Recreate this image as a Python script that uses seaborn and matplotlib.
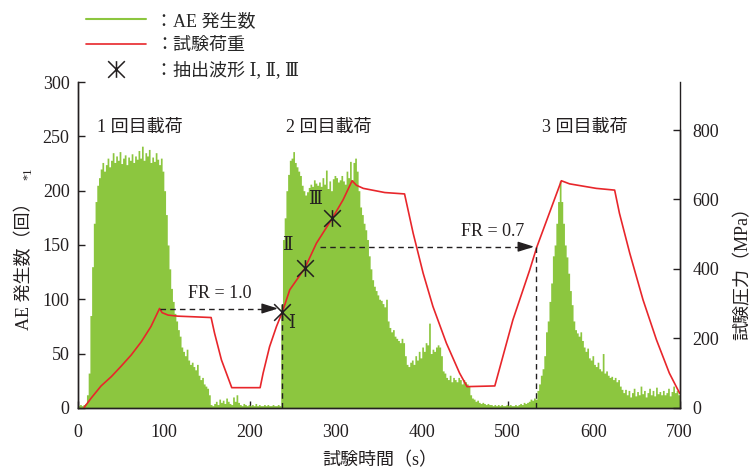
import matplotlib
matplotlib.use("Agg")
import matplotlib.pyplot as plt
from matplotlib.path import Path
from matplotlib.lines import Line2D
import pandas as pd
import seaborn as sns

# AE hits per 2 s bin (t = 0, 2, ..., 698 s)
ae_counts = [
    2, 3, 2, 3, 4, 12, 32, 85, 130, 170,
    190, 205, 212, 220, 226, 218, 224, 230, 222, 228,
    235, 226, 232, 228, 236, 225, 230, 233, 224, 231,
    228, 234, 226, 232, 229, 237, 230, 241, 228, 235,
    232, 238, 226, 231, 227, 235, 229, 224, 230, 218,
    200, 178, 150, 128, 110, 98, 87, 80, 72, 66,
    56, 52, 48, 54, 44, 40, 42, 38, 35, 40,
    30, 26, 28, 22, 20, 18, 12, 3, 2, 4,
    6, 3, 8, 5, 7, 4, 9, 6, 4, 3,
    10, 6, 12, 5, 3, 2, 4, 3, 2, 3,
    2, 3, 2, 4, 2, 3, 2, 2, 3, 2,
    3, 2, 2, 3, 2, 2, 3, 2, 95, 155,
    175, 200, 215, 228, 230, 236, 226, 222, 218, 214,
    205, 200, 196, 199, 203, 206, 204, 210, 207, 205,
    208, 204, 212, 206, 219, 202, 209, 200, 211, 214,
    212, 208, 210, 214, 209, 206, 218, 212, 227, 210,
    226, 230, 218, 200, 185, 178, 170, 164, 155, 140,
    128, 118, 112, 108, 104, 100, 99, 96, 93, 100,
    80, 74, 70, 72, 66, 64, 62, 60, 64, 60,
    48, 40, 38, 42, 44, 40, 48, 44, 52, 46,
    56, 52, 60, 58, 78, 50, 54, 52, 56, 58,
    56, 48, 34, 32, 28, 26, 30, 24, 28, 26,
    24, 28, 26, 22, 26, 24, 22, 20, 12, 9,
    8, 6, 7, 5, 4, 5, 4, 3, 4, 3,
    3, 2, 3, 2, 3, 2, 3, 2, 2, 3,
    2, 3, 2, 2, 3, 2, 3, 4, 3, 5,
    4, 5, 6, 8, 7, 9, 8, 16, 22, 30,
    36, 48, 70, 80, 98, 115, 140, 150, 170, 190,
    209, 190, 170, 150, 139, 124, 108, 95, 80, 72,
    69, 66, 70, 62, 56, 52, 55, 46, 44, 48,
    40, 38, 42, 36, 34, 50, 32, 34, 30, 28,
    29, 26, 28, 24, 26, 20, 17, 14, 17, 12,
    16, 10, 14, 18, 11, 15, 12, 20, 13, 16,
    10, 14, 18, 12, 16, 11, 19, 13, 15, 12,
    16, 12, 14, 18, 11, 15, 20, 14, 16, 12,
]
ae_time = list(range(0, 700, 2))

# test load (MPa) read at the corners / along the curve
load_time = [7, 15.5, 27, 39, 50, 62, 74, 85, 95, 98, 105, 116, 136, 155, 159,
             167, 179, 212, 215.5, 223, 231, 238, 246.5, 264, 277.5, 296, 308.5,
             319, 324, 332, 357, 380, 390, 401.6, 413, 428.7, 444, 452.7, 485,
             506, 525.6, 534, 562.4, 572, 603, 624.4, 630, 642, 657.4, 673, 688, 700]
load_mpa = [0, 28, 63, 90, 119, 152, 191, 234, 286, 274, 267, 264, 262, 260, 215,
            138, 58, 58, 100, 176, 234, 277, 340, 402, 474, 546, 599,
            654, 641, 632, 620, 616, 503, 388, 292, 186, 100, 61, 63,
            253, 397, 464, 654, 645, 632, 627, 560, 445, 311, 196, 100, 42]

pick_time = [238, 264, 296]
pick_mpa = [277, 402, 546]
pick_labels = ["Ⅰ", "Ⅱ", "Ⅲ"]

cycle_labels = ["1 回目載荷", "2 回目載荷", "3 回目載荷"]
cycle_time = [72, 292, 590]

x_ticks = [0, 100, 200, 300, 400, 500, 600, 700]
ae_ticks = [0, 50, 100, 150, 200, 250, 300]
load_ticks = [0, 200, 400, 600, 800]

green = "#8cc63f"
red = "#e8262b"
ink = "#231f20"

sns.set_theme(style="ticks")
plt.rcParams["font.family"] = ["Liberation Serif", "DejaVu Serif", "Noto Sans CJK JP"]
plt.rcParams["axes.unicode_minus"] = False

df_ae = pd.DataFrame({"time": ae_time, "count": ae_counts})
df_load = pd.DataFrame({"time": load_time, "load": load_mpa})

fig = plt.figure(figsize=(7.56, 4.72), dpi=100)
ax = fig.add_axes([0.103, 0.136, 0.796, 0.690])
ax2 = ax.twinx()

sns.histplot(data=df_ae, x="time", weights="count", binwidth=2, binrange=(0, 700),
             element="step", fill=True, color=green, alpha=1, linewidth=0, ax=ax)

sns.lineplot(data=df_load, x="time", y="load", color=red, linewidth=1.2, ax=ax2)

# asterisk marker: X with a vertical bar
star = Path([(-1, -1), (1, 1), (-1, 1), (1, -1), (0, -1), (0, 1)],
            [Path.MOVETO, Path.LINETO, Path.MOVETO, Path.LINETO, Path.MOVETO, Path.LINETO])
ax2.plot(pick_time, pick_mpa, ls="none", marker=star, markersize=12,
         markerfacecolor="none", markeredgecolor=ink, markeredgewidth=1.1, zorder=5)
for t, p, lab, dx, dy in zip(pick_time, pick_mpa, pick_labels, [11, -20, -20], [-35, 65, 55]):
    ax2.text(t + dx, p + dy, lab, fontsize=13, color=ink, ha="center", va="center")

# FR arrows
dash = (0, (4, 3))
head = "-|>,head_length=0.7,head_width=0.22"
ax2.plot([96, 230], [286, 286], color=ink, lw=1, ls=dash)
ax2.annotate("", xy=(236, 286), xytext=(224, 286),
             arrowprops=dict(arrowstyle=head, color=ink, lw=1, mutation_scale=14))
ax2.plot([237, 237], [0, 277], color=ink, lw=1, ls=dash)
ax2.text(165, 330, "FR = 1.0", fontsize=13, color=ink, ha="center", va="center")

ax2.plot([282, 527], [464, 464], color=ink, lw=1, ls=dash)
ax2.annotate("", xy=(534, 464), xytext=(522, 464),
             arrowprops=dict(arrowstyle=head, color=ink, lw=1, mutation_scale=14))
ax2.plot([533, 533], [0, 464], color=ink, lw=1, ls=dash)
ax2.text(482, 508, "FR = 0.7", fontsize=13, color=ink, ha="center", va="center")

for t, lab in zip(cycle_time, cycle_labels):
    ax.text(t, 258, lab, fontsize=13, color=ink, ha="center", va="center")

ax.set_xlim(0, 700)
ax.set_ylim(0, 300)
ax2.set_ylim(0, 938)
ax.set_xticks(x_ticks)
ax.set_yticks(ae_ticks)
ax2.set_yticks(load_ticks)
ax.tick_params(direction="in", labelsize=13, colors=ink, length=5, width=1)
ax.tick_params(axis="x", pad=12)
ax.tick_params(axis="y", pad=6)
ax2.tick_params(direction="in", labelsize=13, colors=ink, length=5, width=1, pad=9)
for a in (ax, ax2):
    a.spines["top"].set_visible(False)
    for s in ("left", "right", "bottom"):
        a.spines[s].set_color(ink)
        a.spines[s].set_linewidth(1)
ax2.spines["right"].set_bounds(0, 800)

ax.set_xlabel("")
ax.set_ylabel("")
ax2.set_ylabel("")
ax.text(0.502, -0.162, "試験時間（s）", transform=ax.transAxes, fontsize=13, color=ink,
        ha="center", va="center")
ax.text(-0.089, 0.448, "AE 発生数（回）", transform=ax.transAxes, fontsize=13, color=ink,
        ha="center", va="center", rotation=90)
ax.text(-0.083, 0.72, "*1", transform=ax.transAxes, fontsize=9, color=ink,
        ha="center", va="center", rotation=90)
ax2.text(1.105, 0.425, "試験圧力（MPa）", transform=ax2.transAxes, fontsize=13, color=ink,
         ha="center", va="center", rotation=90)
ax.grid(False)
ax2.grid(False)

handles = [
    Line2D([], [], color=green, lw=1.5),
    Line2D([], [], color=red, lw=1.2),
    Line2D([], [], ls="none", marker=star, markersize=12, markerfacecolor="none",
           markeredgecolor=ink, markeredgewidth=1.1),
]
labels = ["：AE 発生数", "：試験荷重", "：抽出波形 Ⅰ, Ⅱ, Ⅲ"]
fig.legend(handles, labels, loc="upper left", bbox_to_anchor=(0.10, 0.996),
           frameon=False, fontsize=13, handlelength=3.3, handletextpad=0.5,
           labelspacing=0.4, borderaxespad=0.2)

fig.savefig("out.png", dpi=100)
